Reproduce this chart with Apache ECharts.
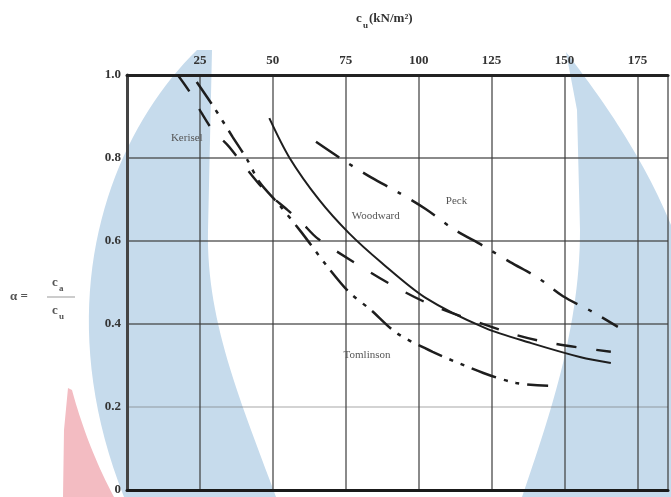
<!DOCTYPE html>
<html><head><meta charset="utf-8">
<script src="https://cdn.jsdelivr.net/npm/echarts@6/dist/echarts.min.js"></script>
<style>html,body{margin:0;padding:0;background:#fff}#c{width:671px;height:497px}</style>
</head><body><div id="c"></div>
<script>
// ---- data ----
const xTickLabels = [25, 50, 75, 100, 125, 150, 175];
const yTickLabels = ['0', '0.2', '0.4', '0.6', '0.8', '1.0'];

const keriselX = [17.4, 21.5, 25.6, 29.4, 34.5, 39.2, 47.1, 55.0, 59.7, 65.2, 77.8, 90.8, 104.4, 131.4, 145.4, 165.9];
const keriselY = [1.0, 0.959, 0.908, 0.867, 0.831, 0.790, 0.723, 0.675, 0.646, 0.607, 0.549, 0.494, 0.446, 0.378, 0.354, 0.333];

const woodwardX = [48.8, 55.6, 65.9, 76.1, 87.4, 102.4, 122.9, 138.6, 155.6, 165.9];
const woodwardY = [0.896, 0.802, 0.699, 0.619, 0.547, 0.463, 0.390, 0.354, 0.320, 0.306];

const peckX = [64.8, 74.1, 84.0, 92.8, 102.4, 111.9, 122.2, 131.4, 141.0, 149.5, 159.7, 168.3];
const peckY = [0.839, 0.795, 0.752, 0.718, 0.677, 0.629, 0.588, 0.549, 0.511, 0.467, 0.429, 0.393];

const tomlinsonX = [23.9, 30.0, 36.2, 41.3, 45.4, 52.2, 59.7, 68.3, 76.1, 83.6, 92.5, 104.8, 122.2, 133.4, 144.4];
const tomlinsonY = [0.983, 0.920, 0.851, 0.795, 0.742, 0.687, 0.622, 0.542, 0.477, 0.434, 0.378, 0.333, 0.282, 0.258, 0.251];

const curveNames = ['Kerisel', 'Woodward', 'Peck', 'Tomlinson'];
const curveLabelX = [20.5, 85.3, 113.0, 82.3];
const curveLabelY = [0.848, 0.660, 0.696, 0.325];

// ---- chart ----
const serif = '"Liberation Serif","DejaVu Serif",serif';
const ink = '#1e1e1e';
const pair = (xs, ys) => xs.map((x, i) => [x, ys[i]]);
const chart = echarts.init(document.getElementById('c'), null, {renderer: 'canvas'});

function lineSeries(name, xs, ys, type, width) {
  return {
    name, type: 'line', xAxisIndex: 0, yAxisIndex: 0,
    data: pair(xs, ys), smooth: 0.3, showSymbol: false, symbol: 'none',
    lineStyle: {color: ink, width, type, cap: 'butt'}, z: 5
  };
}

const gridDark = 'rgba(60,60,60,0.6)', gridLight = 'rgba(110,110,110,0.3)';

chart.setOption({
  animation: false,
  grid: {left: 127, right: 0, top: 75, bottom: 7},
  xAxis: [{
    type: 'value', position: 'top', min: 0, max: 185.5, interval: 25,
    axisLine: {show: true, onZero: false, lineStyle: {color: '#222', width: 3}},
    axisTick: {show: false},
    axisLabel: {margin: 8, fontFamily: serif, fontSize: 13, fontWeight: 'bold', color: '#333',
      formatter: v => xTickLabels.includes(v) ? String(v) : ''},
    splitLine: {show: true, lineStyle: {color: gridDark, width: 2}}
  }, {
    type: 'value', position: 'bottom', min: 0, max: 185.5,
    axisLine: {show: true, onZero: false, lineStyle: {color: '#1a1a1a', width: 3}},
    axisTick: {show: false}, axisLabel: {show: false}, splitLine: {show: false}
  }],
  yAxis: {
    type: 'value', min: 0, max: 1, interval: 0.2,
    axisLine: {show: true, onZero: false, lineStyle: {color: '#444', width: 3}},
    axisTick: {show: false},
    axisLabel: {margin: 6, fontFamily: serif, fontSize: 13, fontWeight: 'bold', color: '#333',
      formatter: v => yTickLabels[Math.round(v * 5)] || ''},
    splitLine: {show: true, lineStyle: {color: [gridDark, gridLight, gridDark, gridDark, gridDark, gridDark], width: 2}}
  },
  series: [
    lineSeries('Kerisel', keriselX, keriselY, [20, 20], 2.4),
    lineSeries('Woodward', woodwardX, woodwardY, 'solid', 2),
    lineSeries('Peck', peckX, peckY, [28, 12, 4, 12], 2.5),
    lineSeries('Tomlinson', tomlinsonX, tomlinsonY, [26, 8, 4, 8, 4, 8], 2.5)
  ]
});

// ---- decorative background watermark (scanned image) ----
function bez(p0, p1, p2, p3, n) {
  const out = [];
  for (let i = 0; i <= n; i++) {
    const t = i / n, u = 1 - t;
    out.push([
      u*u*u*p0[0] + 3*u*u*t*p1[0] + 3*u*t*t*p2[0] + t*t*t*p3[0],
      u*u*u*p0[1] + 3*u*u*t*p1[1] + 3*u*t*t*p2[1] + t*t*t*p3[1]
    ]);
  }
  return out;
}
const blue = '#c6dbec', red = '#f3bcc2';
const leftBlue = [].concat(
  bez([197, 50], [110, 135], [46, 300], [124, 497], 40),
  bez([276, 497], [240, 400], [206, 320], [208, 230], 30),
  [[212, 50]]
);
const redShape = [].concat(
  [[68, 388], [64, 430], [63, 497]],
  bez([114, 497], [94, 460], [80, 420], [72, 390], 20)
);
const rightBlue = [].concat(
  bez([566, 52], [595, 90], [640, 150], [671, 225], 30),
  [[671, 497], [522, 497]],
  bez([522, 497], [548, 420], [580, 330], [580, 230], 30),
  [[577, 110]]
);

const graphics = [
  {type: 'polygon', silent: true, z: -10, shape: {points: leftBlue}, style: {fill: blue}},
  {type: 'polygon', silent: true, z: -10, shape: {points: redShape}, style: {fill: red}},
  {type: 'polygon', silent: true, z: -10, shape: {points: rightBlue}, style: {fill: blue}}
];

function txt(text, x, y, size, color, weight, align) {
  return {type: 'text', silent: true, z: 20, x, y,
    style: {text, font: (weight || 'normal') + ' ' + size + 'px ' + serif, fill: color,
      align: align || 'left', verticalAlign: 'middle', textAlign: align || 'left', textVerticalAlign: 'middle'}};
}

// axis title  c_u (kN/m²)
graphics.push(txt('c', 356, 19, 13, '#333', 'bold'));
graphics.push(txt('u', 363, 26, 9, '#333', 'bold'));
graphics.push(txt('(kN/m²)', 369, 19, 13, '#333', 'bold'));

// y title  α = c_a / c_u
graphics.push(txt('α =', 10, 297, 13, '#555', 'bold'));
graphics.push(txt('c', 52, 283, 13, '#555', 'bold'));
graphics.push(txt('a', 59, 289, 9, '#555', 'bold'));
graphics.push({type: 'line', silent: true, z: 20, shape: {x1: 47, y1: 297, x2: 75, y2: 297}, style: {stroke: '#999', lineWidth: 1}});
graphics.push(txt('c', 52, 311, 13, '#555', 'bold'));
graphics.push(txt('u', 59, 317, 9, '#555', 'bold'));

// curve labels positioned in data coordinates
curveNames.forEach((name, i) => {
  const p = chart.convertToPixel({xAxisIndex: 0, yAxisIndex: 0}, [curveLabelX[i], curveLabelY[i]]);
  graphics.push(txt(name, p[0], p[1], 11, '#555', 'normal', 'center'));
});

chart.setOption({graphic: {elements: graphics}});
</script>
</body></html>
